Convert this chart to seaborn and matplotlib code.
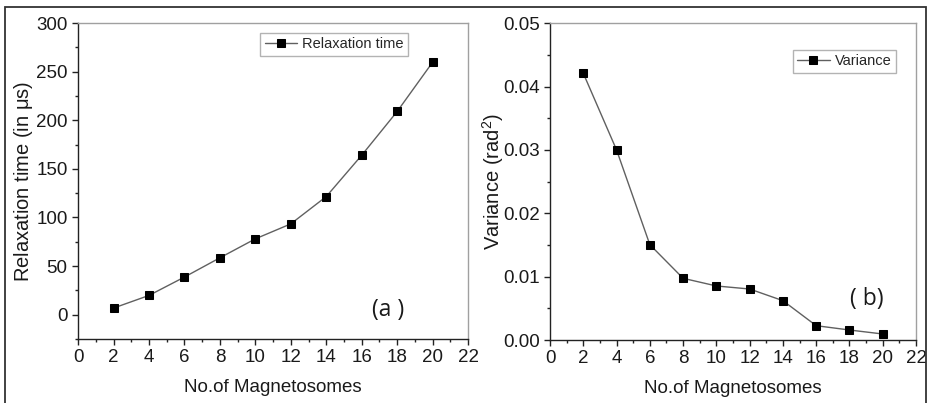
import matplotlib.pyplot as plt
import pandas as pd
import seaborn as sns
from matplotlib.patches import Rectangle
from matplotlib.ticker import MultipleLocator

# Data
magnetosomes = [2, 4, 6, 8, 10, 12, 14, 16, 18, 20]
relaxation_time = [6.8, 19.8, 38.7, 58.5, 78, 93.4, 121.5, 164, 209, 259.7]
variance = [0.0421, 0.0300, 0.01505, 0.00974, 0.00853, 0.00805, 0.00621,
            0.00226, 0.00158, 0.00095]

df = pd.DataFrame({'n': magnetosomes, 'relax': relaxation_time, 'var': variance})

sns.set_style('ticks')
plt.rcParams['font.family'] = ['Liberation Sans', 'DejaVu Sans']
plt.rcParams['mathtext.fontset'] = 'custom'
plt.rcParams['mathtext.rm'] = 'Liberation Sans'

fig = plt.figure(figsize=(9.28, 4.03), dpi=100)
ax1 = fig.add_axes([0.0841, 0.1588, 0.4203, 0.7841])
ax2 = fig.add_axes([0.5927, 0.1563, 0.3944, 0.786])

# whole-figure frame
fig.patches.append(Rectangle((0.0054, -0.1), 0.9924, 1.0826, transform=fig.transFigure,
                             fill=False, edgecolor='#333333', linewidth=1.3, clip_on=False))


def style_axes(ax):
    ax.set_xlim(0, 22)
    ax.xaxis.set_major_locator(MultipleLocator(2))
    ax.xaxis.set_minor_locator(MultipleLocator(1))
    for side in ['top', 'right']:
        ax.spines[side].set_color('#a0a0a0')
        ax.spines[side].set_linewidth(1.0)
    for side in ['left', 'bottom']:
        ax.spines[side].set_color('#222222')
        ax.spines[side].set_linewidth(1.0)
    ax.tick_params(which='major', direction='out', length=4, width=1, colors='#222222',
                   labelsize=13.5, labelcolor='#1a1a1a')
    ax.tick_params(which='minor', direction='out', length=2.5, width=1, colors='#222222')
    ax.set_xlabel('No.of Magnetosomes', fontsize=13.5, color='#1a1a1a', labelpad=9)


# (a) relaxation time
sns.lineplot(data=df, x='n', y='relax', ax=ax1, color='#606060', linewidth=1,
             marker='s', markersize=6, markerfacecolor='black', markeredgecolor='black',
             label='Relaxation time')
style_axes(ax1)
ax1.set_ylim(-25, 300)
ax1.yaxis.set_major_locator(MultipleLocator(50))
ax1.yaxis.set_minor_locator(MultipleLocator(25))
ax1.set_ylabel(r'Relaxation time (in $\mathrm{\mu}$s)', fontsize=14.5, color='#1a1a1a',
               labelpad=1)
ax1.legend(loc='upper left', bbox_to_anchor=(0.467, 0.968), fancybox=False,
           edgecolor='#a0a0a0', fontsize=10.5, handlelength=2.2, borderpad=0.3,
           handletextpad=0.4, borderaxespad=0)

# (b) variance
sns.lineplot(data=df, x='n', y='var', ax=ax2, color='#606060', linewidth=1,
             marker='s', markersize=6, markerfacecolor='black', markeredgecolor='black',
             label='Variance')
style_axes(ax2)
ax2.set_ylim(0, 0.05)
ax2.yaxis.set_major_locator(MultipleLocator(0.01))
ax2.yaxis.set_minor_locator(MultipleLocator(0.005))
ax2.yaxis.set_major_formatter(plt.FormatStrFormatter('%.2f'))
ax2.set_ylabel(r'Variance (rad$^2$)', fontsize=14.5, color='#1a1a1a', labelpad=-2)
ax2.legend(loc='upper left', bbox_to_anchor=(0.664, 0.916), fancybox=False,
           edgecolor='#a0a0a0', fontsize=10.5, handlelength=2.2, borderpad=0.3,
           handletextpad=0.4, borderaxespad=0)

# panel tags
fig.text(388 / 928, 1 - 310 / 403, '(a )', fontsize=16.5, family='Open Sans',
         color='#1a1a1a', ha='center', va='center')
fig.text(867 / 928, 1 - 299 / 403, '( b)', fontsize=16.5, family='Open Sans',
         color='#1a1a1a', ha='center', va='center')

fig.savefig('out.png', dpi=100)
